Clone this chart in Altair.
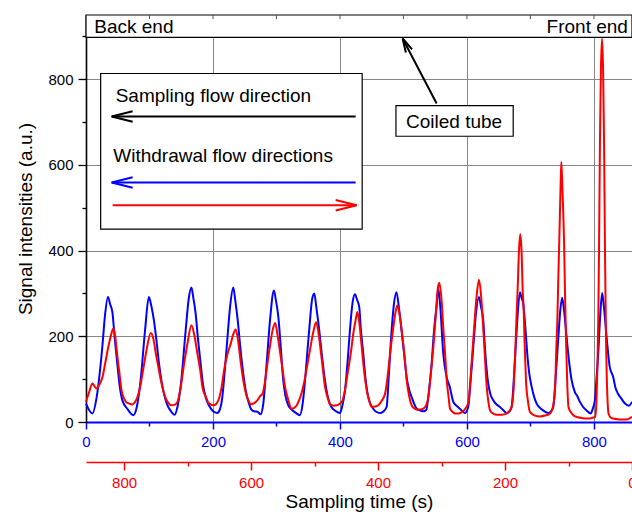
import altair as alt
import pandas as pd

# ---------------- data ----------------
blue_t = [0, 10, 17, 25.7, 30, 34.6, 38, 41.5, 45, 49.3, 53, 57.2, 65, 74.5, 80, 86, 93, 99, 103, 107,
          111, 115, 119, 122.8, 128, 133, 139.6, 144, 149, 157, 162, 166, 169, 172.7, 176, 180.6, 184,
          188.5, 194, 199, 206.8, 211, 214.7, 218, 222.5, 227, 232, 235, 239, 243, 247.7, 252, 256.7,
          260, 264.6, 270, 275, 279, 284.5, 290, 296, 299, 303, 307, 310.7, 314, 318.6, 323, 329, 337,
          341, 345, 349, 352.8, 356, 359.6, 363, 367.4, 372, 376.4, 380, 384, 388, 392, 400, 404, 408,
          412, 415.7, 420, 423.6, 427, 430.4, 433, 436.7, 440, 444.6, 448, 452.4, 457, 463, 468, 473.5,
          477, 481.4, 485, 489, 493, 497, 501, 505, 509, 513, 517, 520.8, 526, 531, 536, 540, 544.4,
          548, 552, 555, 558, 562.7, 568, 573, 578.5, 582, 586, 591.6, 597, 602, 606, 610, 614, 619,
          622, 625.7, 629, 633.5, 637, 641.4, 646, 652, 657, 662.5, 667, 670.4, 673, 675.6, 679, 683.5,
          686, 688.7, 692, 695, 698, 702, 706, 709.8, 715, 720, 728, 732, 736, 740, 744, 747, 750, 753,
          757, 761, 765, 770, 774, 778, 783, 788.5, 795, 798, 801.6, 804, 806.8, 810, 813, 816, 820,
          825, 830.4, 834, 838, 843, 849, 855, 860]
blue_v = [43, 20, 60, 175, 250, 292, 275, 257, 200, 136, 85, 51, 31, 16, 35, 97, 214, 292, 270, 237,
          190, 136, 95, 66, 40, 27, 17, 35, 82, 214, 290, 314, 290, 253, 200, 136, 90,
          58, 38, 27, 21, 30, 58, 110, 191, 270, 314, 285, 237, 175, 113, 70, 43,
          30, 25, 24, 18, 40, 136, 240, 307, 285, 245, 170, 97, 62, 39, 30, 23, 16,
          40, 97, 170, 237, 285, 300, 265, 214, 150, 97, 65, 43, 32, 27, 21, 40, 74,
          140, 214, 280, 298, 285, 268, 215, 160, 105, 58, 42, 31, 24, 21, 24, 35,
          110, 214, 275, 303, 265, 214, 160, 105, 75, 58, 42, 31, 27, 25, 28, 70, 136,
          210, 268, 310, 270, 160, 105, 82, 47, 40, 35, 27, 21, 35, 100, 175, 250, 292,
          270, 237, 160, 90, 65, 51, 42, 35, 28, 21, 25, 35, 80, 144, 230, 303,
          290, 276, 220, 160, 115, 82, 58, 43, 33, 27, 21, 24, 35, 110, 198, 260, 290, 260,
          198, 140, 97, 70, 60, 47, 35, 27, 20, 30, 51, 100, 160, 250, 301, 265, 198,
          128, 105, 80, 66, 55, 43, 38, 47]

red_t = [860, 855, 850, 846, 843, 838, 834, 830, 826, 821, 817, 814, 810.5, 807, 804, 800, 797, 792,
         787, 783, 779, 775, 771, 765, 758, 754, 750, 746, 742, 738, 734.4, 730, 726.5, 721, 716, 711,
         705.5, 700, 694, 689, 684.6, 680, 676.7, 671, 666, 658, 654, 650.4, 646, 642.5, 637, 632, 628,
         624, 620, 616, 612, 608, 604, 600.5, 595, 590, 586, 582, 578, 575, 570, 566, 562, 558, 554,
         550, 546.5, 542, 536, 532, 528, 524, 520, 516, 512, 507, 502, 497.6, 494, 491, 487, 483.5,
         479, 475.6, 470, 465, 461, 457, 452, 448, 443, 439, 435, 432.6, 429, 425.7, 422, 417.8, 414,
         410, 405, 399.5, 394, 389, 385, 381, 376, 372, 369.6, 366, 362.7, 358, 354.8, 351, 347, 343,
         339, 333, 328.7, 324, 320.8, 317, 312.9, 309, 306, 303.5, 300, 297, 294, 291.8, 289, 286.6,
         282, 278.7, 273, 268, 262, 257.6, 254, 249.7, 245, 241, 238, 235, 232, 228.8, 226, 223.6,
         218, 213, 205, 197, 192, 189, 186, 184, 182, 180, 178, 176, 174, 172, 171, 169, 167, 164,
         160.6, 153, 145, 137, 129, 124, 121, 119.5, 117.6, 116, 114.4, 112.5, 111.3, 110, 108.5, 107,
         105.5, 104, 102, 100, 96, 92.4, 85, 78, 71.3, 64, 58, 56, 54.6, 53, 52, 50.5, 49, 47.2, 45.5,
         44, 42.5, 41, 40, 38.5, 37, 33, 29.4, 20, 8, 0]
red_v = [47, 70, 90, 82, 78, 90, 105, 135, 167, 200, 218, 200, 152, 110, 74, 55, 47, 43,
         41, 46, 58, 80, 113, 165, 208, 195, 160, 128, 97, 72, 55, 44, 39, 40, 47, 80,
         136, 185, 226, 200, 160, 120, 82, 58, 43, 39, 44, 55, 85, 121, 160, 183, 205,
         216, 185, 136, 95, 66, 50, 41, 44, 51, 60, 66, 95, 128, 180, 215, 231, 200, 160,
         118, 82, 55, 31, 33, 39, 52, 70, 95, 128, 170, 210, 233, 210, 175, 125, 82,
         55, 41, 38, 39, 42, 47, 75, 113, 160, 206, 240, 257, 225, 175, 120, 74, 50,
         35, 36, 39, 50, 66, 105, 160, 220, 260, 272, 250, 214, 150, 97, 60, 39, 32,
         29, 29, 31, 40, 58, 110, 175, 250, 310, 325, 285, 214, 150, 97, 60, 31,
         23, 20, 20, 23, 32, 47, 110, 198, 290, 332, 300, 237, 160, 82, 45, 27,
         19, 17, 17, 20, 28, 39, 90, 160, 240, 315, 400, 438, 400, 300, 276, 180, 97, 50,
         23, 15, 13, 15, 20, 40, 82, 160, 237, 340, 432, 550, 607, 560, 500, 420,
         300, 198, 90, 35, 22, 16, 11, 9, 8, 9, 12, 50, 121, 250, 393, 650, 820, 895, 820,
         650, 393, 200, 121, 50, 20, 10, 8, 6, 6, 12]

# annotation texts
text_left_label = ["Back end", "Sampling flow direction", "Withdrawal flow directions"]
text_left_x = [13, 46.7, 43]
text_left_y = [908, 747, 607]
text_right_label = ["Front end"]
text_right_x = [853.6]
text_right_y = [908]
text_center_label = ["Coiled tube"]
text_center_x = [579.8]
text_center_y = [687.4]

# boxes: top band, legend box, coiled tube box
box_x1 = [0, 23.1, 488.2]
box_x2 = [860, 435, 672.9]
box_y1 = [898, 450, 667]
box_y2 = [950, 813.4, 738.7]

# arrows (tail -> tip)
arrow_x_tail = [424.7, 424.7, 42, 552.3]
arrow_y_tail = [713, 559, 506, 743.4]
arrow_x_tip = [40.4, 40.4, 426.3, 498.7]
arrow_y_tip = [713, 559, 506, 895.2]
arrow_color = ["#000000", "#0000FF", "#FF0000", "#000000"]
arrow_angle = [180, 180, 0, 243]
arrow_head = [441, 441, 441, 196]

top_ticks = [100, 200, 300, 400, 500, 600, 700, 800]

XMAX = 860
YMAX = 950
FONT = "Liberation Sans"
BLUE = "#0000FF"
RED = "#FF0000"

blue_df = pd.DataFrame({"t": blue_t, "v": blue_v})
red_df = pd.DataFrame({"t": red_t, "v": red_v})
tl_df = pd.DataFrame({"t": text_left_x, "v": text_left_y, "label": text_left_label})
tr_df = pd.DataFrame({"t": text_right_x, "v": text_right_y, "label": text_right_label})
tc_df = pd.DataFrame({"t": text_center_x, "v": text_center_y, "label": text_center_label})
box_df = pd.DataFrame({"t": box_x1, "t2": box_x2, "v": box_y1, "v2": box_y2})
arr_df = pd.DataFrame({"t": arrow_x_tail, "v": arrow_y_tail, "t2": arrow_x_tip, "v2": arrow_y_tip,
                       "c": arrow_color, "a": arrow_angle, "s": arrow_head})
head_df = pd.DataFrame({"t": arrow_x_tip, "v": arrow_y_tip, "c": arrow_color, "a": arrow_angle, "s": arrow_head})
tt_df = pd.DataFrame({"t": top_ticks, "v": [YMAX] * len(top_ticks), "v2": [YMAX - 9.5] * len(top_ticks)})

maj = "datum.value % 200 === 0"
yscale = alt.Scale(domain=[0, YMAX], nice=False, zero=False)
xb = alt.Scale(domain=[0, XMAX], nice=False, zero=False)
xr = alt.Scale(domain=[0, XMAX], nice=False, zero=False, reverse=True)

y_axis = alt.Axis(
    values=list(range(0, 1000, 100)), labelExpr=f"{maj} ? datum.label : ''",
    tickSize={"condition": {"test": maj, "value": 8}, "value": 4},
    gridOpacity={"condition": {"test": f"{maj} && datum.value > 0", "value": 1}, "value": 0},
    grid=True, gridColor="#888888", gridWidth=1, labelFlush=False,
    domainColor="#000000", domainWidth=1.6, tickColor="#000000", tickWidth=1.3,
    labelColor="#000000", labelFont=FONT, labelFontSize=15, labelPadding=5,
    title="Signal intensities (a.u.)", titleFont=FONT, titleFontSize=19, titleFontWeight="normal",
    titleColor="#000000", titlePadding=12,
)
blue_axis = alt.Axis(
    orient="bottom", values=list(range(0, 900, 100)), labelExpr=f"{maj} ? datum.label : ''",
    tickSize={"condition": {"test": maj, "value": 7}, "value": 4},
    gridOpacity={"condition": {"test": f"{maj} && datum.value > 0", "value": 1}, "value": 0},
    grid=True, gridColor="#888888", gridWidth=1, labelFlush=False,
    domainColor=BLUE, domainWidth=2, tickColor=BLUE, tickWidth=1.5,
    labelColor=BLUE, labelFont=FONT, labelFontSize=15, labelPadding=5, title=None,
)
red_axis = alt.Axis(
    orient="bottom", offset=40, values=list(range(0, 900, 100)), labelExpr=f"{maj} ? datum.label : ''",
    tickSize={"condition": {"test": maj, "value": 8}, "value": 4}, grid=False, labelFlush=False,
    domainColor=RED, domainWidth=1.6, tickColor=RED, tickWidth=1.5,
    labelColor=RED, labelFont=FONT, labelFontSize=15, labelPadding=5,
    title="Sampling time (s)", titleFont=FONT, titleFontSize=19, titleFontWeight="normal",
    titleColor="#000000", titlePadding=2,
)


def X(field="t:Q"):
    return alt.X(field, scale=xb, axis=blue_axis)


def Y(field="v:Q"):
    return alt.Y(field, scale=yscale, axis=y_axis)


blue_line = alt.Chart(blue_df).mark_line(color=BLUE, strokeWidth=2, interpolate="monotone").encode(
    x=X(), y=Y(), order=alt.Order("t:Q"))

boxes = alt.Chart(box_df).mark_rect(fill="white", stroke="black", strokeWidth=1.2).encode(
    x=X(), x2="t2:Q", y=Y(), y2="v2:Q")
top_tick_marks = alt.Chart(tt_df).mark_rule(color="#555555", strokeWidth=1).encode(
    x=X(), y=Y(), y2="v2:Q")
arrow_lines = alt.Chart(arr_df).mark_rule(strokeWidth=2).encode(
    x=X(), x2="t2:Q", y=Y(), y2="v2:Q", color=alt.Color("c:N", scale=None))
arrow_heads = alt.Chart(head_df).mark_point(
    shape="M-2,-0.5L0,0L-2,0.5", filled=False, strokeWidth=2, opacity=1
).encode(
    x=X(), y=Y(),
    color=alt.Color("c:N", scale=None),
    angle=alt.Angle("a:Q", scale=None),
    size=alt.Size("s:Q", scale=None),
)
text_l = alt.Chart(tl_df).mark_text(align="left", baseline="alphabetic", font=FONT, fontSize=19, color="black").encode(
    x=X(), y=Y(), text="label:N")
text_r = alt.Chart(tr_df).mark_text(align="right", baseline="alphabetic", font=FONT, fontSize=19, color="black").encode(
    x=X(), y=Y(), text="label:N")
text_c = alt.Chart(tc_df).mark_text(align="center", baseline="alphabetic", font=FONT, fontSize=19, color="black").encode(
    x=X(), y=Y(), text="label:N")

blue_group = alt.layer(blue_line, boxes, top_tick_marks, arrow_lines, arrow_heads, text_l, text_r, text_c)

red_line = alt.Chart(red_df).mark_line(color=RED, strokeWidth=2, interpolate="monotone").encode(
    x=alt.X("t:Q", scale=xr, axis=red_axis),
    y=Y(),
    order=alt.Order("t:Q", sort="descending"),
)

chart = alt.layer(blue_group, red_line).resolve_scale(x="independent").properties(
    width=546, height=407,
    autosize=alt.AutoSizeParams(type="none"),
    padding={"left": 86, "top": 15, "right": 0, "bottom": 91},
    background="white",
).configure_view(stroke="#888888", strokeWidth=1)

chart.save("out.html", embed_options={"renderer": "svg", "actions": False})
